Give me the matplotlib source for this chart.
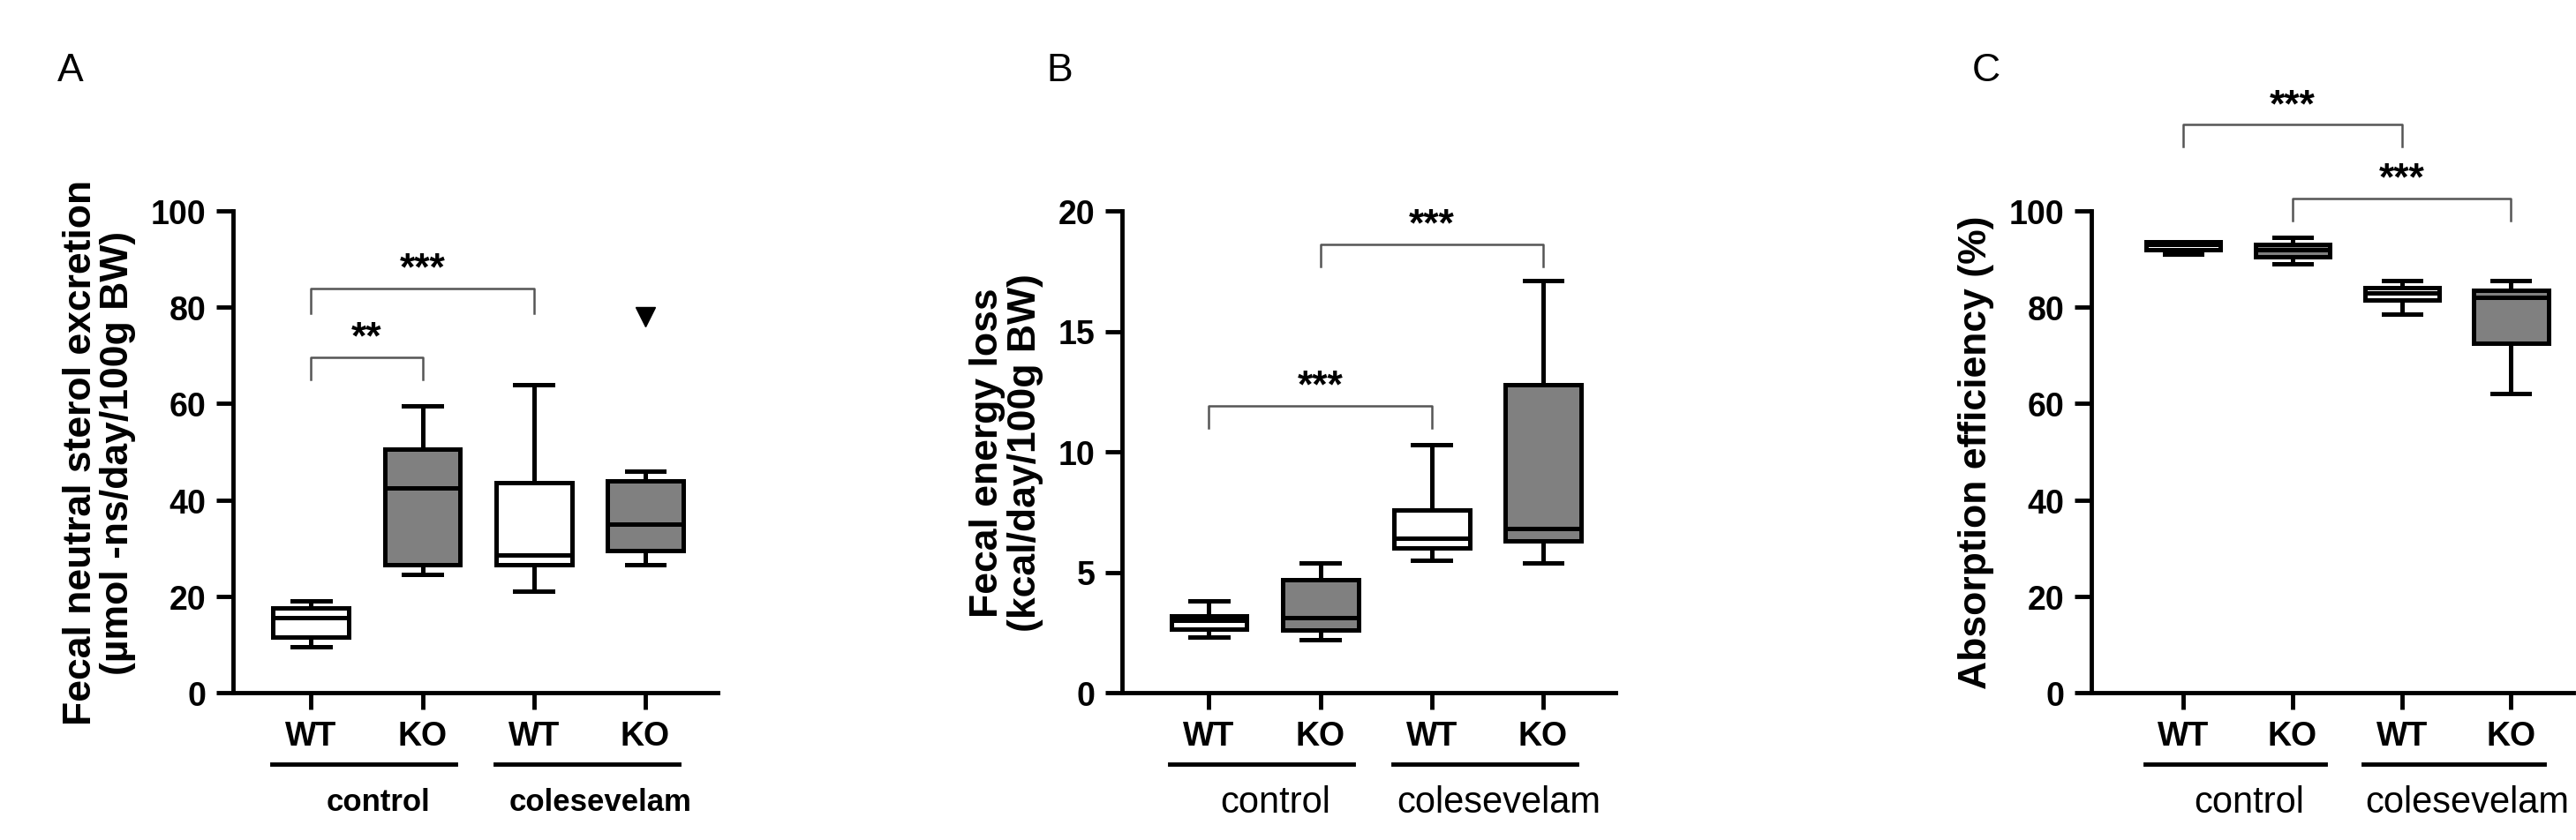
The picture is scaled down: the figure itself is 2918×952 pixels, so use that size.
import matplotlib
matplotlib.use("Agg")
import matplotlib.pyplot as plt
from matplotlib.transforms import blended_transform_factory as btf

plt.rcParams['font.family'] = ['Liberation Sans', 'DejaVu Sans']

groups = ["WT", "KO", "WT", "KO"]
treatments = ["control", "colesevelam"]
fills = ["white", "#808080", "white", "#808080"]

# stats: whislo, q1, med, q3, whishi
A_stats = [(9.5, 11.5, 15.5, 17.5, 19.0), (24.5, 26.5, 42.5, 50.5, 59.5),
           (21.0, 26.5, 28.5, 43.5, 64.0), (26.5, 29.5, 35.0, 44.0, 46.0)]
A_fliers = [[], [], [], [78.0]]
B_stats = [(2.3, 2.65, 3.0, 3.2, 3.8), (2.2, 2.6, 3.1, 4.7, 5.4),
           (5.5, 6.0, 6.4, 7.6, 10.3), (5.4, 6.3, 6.8, 12.8, 17.1)]
C_stats = [(91.0, 92.0, 93.0, 93.5, 93.5), (89.0, 90.5, 92.0, 93.0, 94.5),
           (78.5, 81.5, 83.0, 84.0, 85.5), (62.0, 72.5, 82.0, 83.5, 85.5)]

A_brackets = [(0, 1, 69.6, 65.0, "**"), (0, 2, 83.9, 78.8, "***")]
B_brackets = [(1, 3, 18.6, 17.7, "***"), (0, 2, 11.9, 11.0, "***")]
C_brackets = [(0, 2, 117.9, 113.3, "***"), (1, 3, 102.6, 98.0, "***")]

W, H = 2918, 953
fig = plt.figure(figsize=(W/100, H/100), dpi=100)

panels = [
    dict(letter="A", stats=A_stats, fliers=A_fliers, br=A_brackets, left=264, right=813,
         ylim=100, yticks=[0, 20, 40, 60, 80, 100],
         ylabel="Fecal neutral sterol excretion\n(µmol -ns/day/100g BW)",
         xl=(-0.70, 3.65), gfs=25, gweight="bold", letterx=80),
    dict(letter="B", stats=B_stats, fliers=[[]]*4, br=B_brackets, left=1271, right=1830,
         ylim=20, yticks=[0, 5, 10, 15, 20],
         ylabel="Fecal energy loss\n(kcal/day/100g BW)",
         xl=(-0.78, 3.65), gfs=30, gweight="normal", letterx=1200),
    dict(letter="C", stats=C_stats, fliers=[[]]*4, br=C_brackets, left=2369, right=2915,
         ylim=100, yticks=[0, 20, 40, 60, 80, 100],
         ylabel="Absorption efficiency (%)",
         xl=(-0.84, 3.57), gfs=30, gweight="normal", letterx=2250),
]

top, bottom = 240, 786
lw = 3.6
for p in panels:
    ax = fig.add_axes([p["left"]/W, 1-bottom/H, (p["right"]-p["left"])/W, (bottom-top)/H])
    bstats = []
    for s, fl in zip(p["stats"], p["fliers"]):
        bstats.append(dict(whislo=s[0], q1=s[1], med=s[2], q3=s[3], whishi=s[4], fliers=fl))
    bp = ax.bxp(bstats, positions=range(4), widths=0.68, patch_artist=True,
                showfliers=True,
                boxprops=dict(linewidth=lw, edgecolor="black"),
                medianprops=dict(color="black", linewidth=lw),
                whiskerprops=dict(color="black", linewidth=lw),
                capprops=dict(color="black", linewidth=lw),
                capwidths=0.34,
                flierprops=dict(marker="v", markerfacecolor="black", markeredgecolor="black",
                                markersize=16))
    for patch, c in zip(bp["boxes"], fills):
        patch.set_facecolor(c)
    ax.set_xlim(*p["xl"])
    ax.set_ylim(0, p["ylim"])
    ax.set_yticks(p["yticks"])
    ax.set_xticks(range(4))
    ax.set_xticklabels(groups)
    for sp in ["top", "right"]:
        ax.spines[sp].set_visible(False)
    for sp in ["left", "bottom"]:
        ax.spines[sp].set_linewidth(3.5)
    ax.tick_params(width=3.5, length=14, labelsize=27, pad=8)
    for t in ax.get_xticklabels() + ax.get_yticklabels():
        t.set_fontweight("bold")
    ax.set_ylabel(p["ylabel"], fontsize=32, fontweight="bold", labelpad=12, linespacing=1.05)
    for (a, b, y, y0, s) in p["br"]:
        ax.plot([a, a, b, b], [y0, y, y, y0], color="#555555", lw=1.8, clip_on=False)
        ax.text((a+b)/2, y + p["ylim"]*0.04, s, ha="center", va="center",
                fontsize=32, fontweight="bold", clip_on=False)
    tr = btf(ax.transData, ax.transAxes)
    for i, g in enumerate(treatments):
        x0, x1 = 2*i - 0.35, 2*i + 1.3
        ax.plot([x0, x1], [-(867-786)/546]*2, color="black", lw=3.5, transform=tr, clip_on=False)
        ax.text((2*i + 2*i + 1)/2 + 0.1, -(910-786)/546, g, transform=tr, ha="center", va="center",
                fontsize=p["gfs"], fontweight=p["gweight"])
    fig.text(p["letterx"]/W, 1-80/H, p["letter"], fontsize=32, ha="center", va="center")

fig.savefig("out.png", dpi=100)
